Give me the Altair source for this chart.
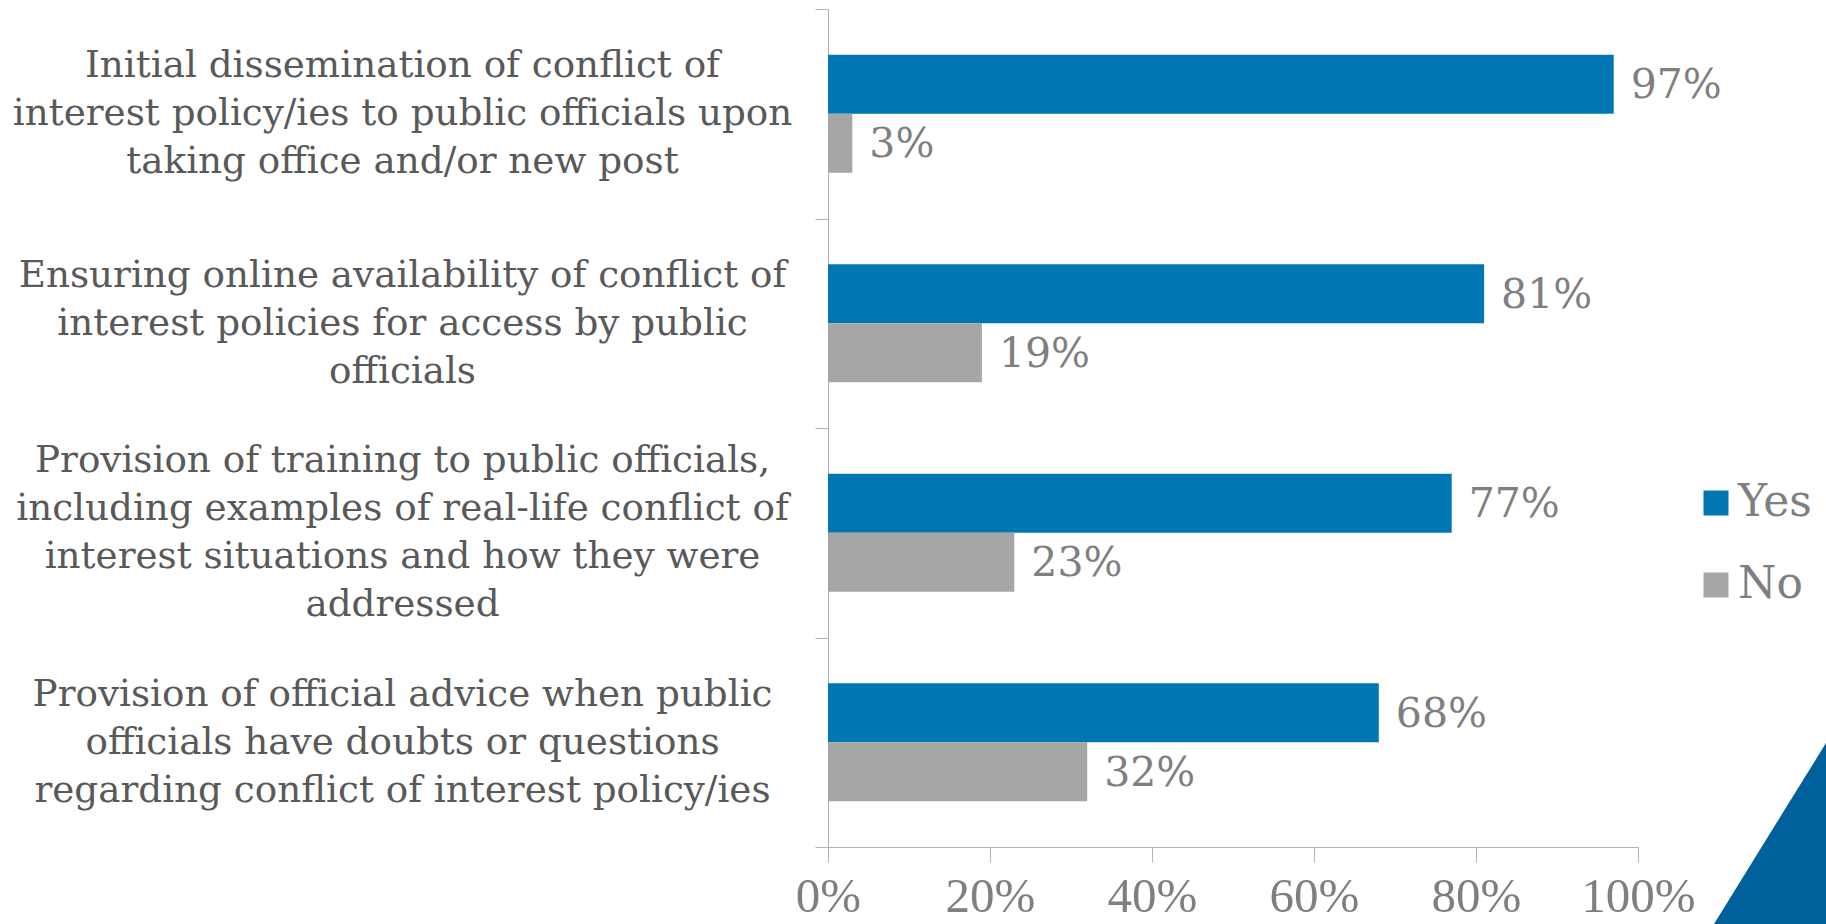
import altair as alt
import pandas as pd

categories = [
    "Initial dissemination of conflict of|interest policy/ies to public officials upon|taking office and/or new post",
    "Ensuring online availability of conflict of|interest policies for access by public|officials",
    "Provision of training to public officials,|including examples of real-life conflict of|interest situations and how they were|addressed",
    "Provision of official advice when public|officials have doubts or questions|regarding conflict of interest policy/ies",
]
yes_values = [0.97, 0.81, 0.77, 0.68]
no_values = [0.03, 0.19, 0.23, 0.32]
responses = ["Yes", "No"]
colors = ["#0077B3", "#A6A6A6"]
x_ticks = [0, 0.2, 0.4, 0.6, 0.8, 1.0]

rows = []
for c, yv, nv in zip(categories, yes_values, no_values):
    rows.append({"category": c, "response": "Yes", "share": yv})
    rows.append({"category": c, "response": "No", "share": nv})
df = pd.DataFrame(rows)

SERIF = "DejaVu Serif"
TICK_FONT = "Liberation Serif"
AXIS_GRAY = "#b3b3b3"
LINE_H = 48

x_enc = alt.X(
    "share:Q",
    scale=alt.Scale(domain=[0, 1]),
    axis=alt.Axis(
        title=None, values=x_ticks, format=".0%", grid=False,
        labelFontSize=49, labelColor="#7f7f7f", labelFont=TICK_FONT,
        labelPadding=10, tickSize=15, tickColor=AXIS_GRAY, domainColor=AXIS_GRAY,
        labelFlush=False, labelOverlap=False,
    ),
)
y_enc = alt.Y(
    "category:N", sort=categories,
    scale=alt.Scale(paddingInner=0, paddingOuter=0),
    axis=alt.Axis(
        title=None, labelExpr="split(datum.label, '|')",
        labelAlign="center", labelBaseline="middle", labelPadding=413,
        labelOffset={
            "condition": {"test": "length(split(datum.value, '|')) == 4", "value": -1.5 * LINE_H},
            "value": -1.0 * LINE_H,
        },
        labelLimit=0, labelFontSize=37.3, labelColor="#595959", labelFont=SERIF,
        labelLineHeight=LINE_H, tickBand="extent", tickSize=13,
        tickColor=AXIS_GRAY, domainColor=AXIS_GRAY, labelOverlap=False,
    ),
)
yoff_enc = alt.YOffset(
    "response:N", sort=responses,
    scale=alt.Scale(domain=responses, paddingInner=0, paddingOuter=0.775),
)

base = alt.Chart(df)

bars = base.mark_bar().encode(
    x=x_enc, y=y_enc, yOffset=yoff_enc,
    color=alt.Color(
        "response:N", sort=responses,
        scale=alt.Scale(domain=responses, range=colors),
        legend=alt.Legend(
            title=None, orient="none", legendX=866, legendY=472,
            symbolType="square", symbolSize=625, symbolStrokeWidth=0,
            labelFontSize=44, labelColor="#7f7f7f", labelFont=SERIF,
            labelOffset=0, rowPadding=38, padding=0,
        ),
    ),
)

labels = base.mark_text(
    align="left", baseline="middle", dx=17, dy=2, fontSize=41,
    color="#7f7f7f", font=SERIF,
).encode(
    x="share:Q", y=alt.Y("category:N", sort=categories), yOffset=alt.YOffset("response:N", sort=responses),
    text=alt.Text("share:Q", format=".0%"),
)

triangle = alt.Chart(alt.Data(values=[{"d": 1}])).mark_point(
    shape="M0,0L112,-181L140,-181L140,0Z", size=4, filled=True,
    fill="#00609C", opacity=1, strokeWidth=0,
).encode(x=alt.value(886), y=alt.value(915))

chart = alt.layer(bars, labels, triangle).properties(
    width=810, height=838,
    padding={"left": 828, "top": 9, "right": 188, "bottom": 77},
    autosize=alt.AutoSizeParams(type="none"),
    background="white",
).configure_view(stroke=None)

chart.save("out.html", embed_options={"renderer": "svg", "actions": False})
